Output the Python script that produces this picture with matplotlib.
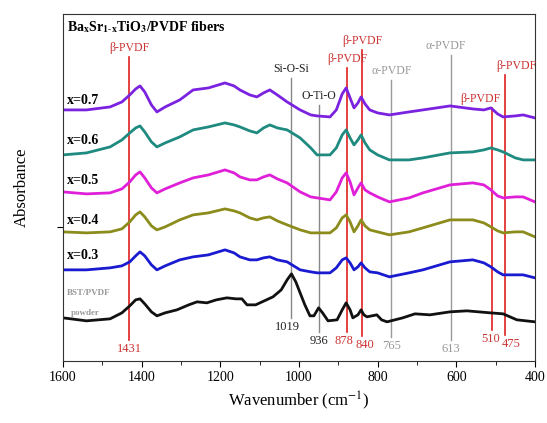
import matplotlib
matplotlib.use('Agg')
import matplotlib.pyplot as plt

# wavenumber grid (cm-1) shared by the fiber spectra
wn = [1600, 1540, 1480, 1450, 1430, 1415, 1404, 1392, 1375, 1361,
      1340, 1303, 1269, 1230, 1188, 1165, 1150, 1125, 1107, 1090,
      1074, 1055, 1030, 997, 970, 954, 921, 905, 890, 880,
      870, 860, 850, 842, 832, 820, 800, 770, 720, 685,
      616, 558, 530, 512, 495, 481, 450, 430, 400]

x03 = [0.91, 0.91, 0.93, 0.95, 0.99, 1.05, 1.09, 1.05, 0.96, 0.91,
       0.95, 1.01, 1.04, 1.06, 1.11, 1.08, 1.04, 1.01, 1.01, 1.03,
       1.04, 1.01, 0.99, 0.91, 0.89, 0.88, 0.88, 0.93, 1.01, 1.03,
       0.98, 0.91, 0.94, 0.98, 0.93, 0.89, 0.88, 0.84, 0.88, 0.91,
       0.99, 1.01, 0.98, 0.94, 0.89, 0.86, 0.86, 0.86, 0.83]
x04 = [1.29, 1.28, 1.29, 1.32, 1.39, 1.46, 1.49, 1.44, 1.35, 1.31,
       1.34, 1.41, 1.46, 1.48, 1.52, 1.50, 1.48, 1.43, 1.41, 1.43,
       1.44, 1.40, 1.36, 1.31, 1.28, 1.28, 1.28, 1.33, 1.43, 1.46,
       1.39, 1.29, 1.35, 1.41, 1.35, 1.31, 1.29, 1.26, 1.29, 1.33,
       1.41, 1.41, 1.38, 1.34, 1.30, 1.28, 1.29, 1.29, 1.24]
x05 = [1.69, 1.67, 1.68, 1.72, 1.79, 1.86, 1.89, 1.83, 1.73, 1.68,
       1.72, 1.78, 1.83, 1.86, 1.91, 1.88, 1.84, 1.81, 1.81, 1.84,
       1.86, 1.82, 1.78, 1.69, 1.64, 1.63, 1.61, 1.69, 1.83, 1.88,
       1.79, 1.66, 1.73, 1.78, 1.71, 1.68, 1.64, 1.59, 1.63, 1.68,
       1.76, 1.78, 1.76, 1.71, 1.65, 1.63, 1.64, 1.64, 1.59]
x06 = [2.06, 2.08, 2.14, 2.21, 2.28, 2.33, 2.35, 2.29, 2.19, 2.14,
       2.18, 2.24, 2.31, 2.34, 2.38, 2.36, 2.34, 2.30, 2.28, 2.33,
       2.36, 2.33, 2.31, 2.23, 2.13, 2.06, 2.06, 2.13, 2.26, 2.31,
       2.23, 2.16, 2.21, 2.26, 2.18, 2.11, 2.06, 2.01, 2.01, 2.03,
       2.08, 2.09, 2.11, 2.13, 2.11, 2.09, 2.03, 2.01, 2.01]
x07 = [2.51, 2.51, 2.54, 2.59, 2.66, 2.72, 2.75, 2.69, 2.56, 2.49,
       2.54, 2.61, 2.71, 2.73, 2.78, 2.75, 2.71, 2.66, 2.64, 2.68,
       2.71, 2.66, 2.59, 2.51, 2.46, 2.45, 2.44, 2.51, 2.67, 2.73,
       2.63, 2.53, 2.58, 2.64, 2.57, 2.51, 2.48, 2.46, 2.49, 2.51,
       2.55, 2.52, 2.51, 2.53, 2.47, 2.44, 2.45, 2.46, 2.43]

# BST/PVDF powder
wn_powder = [1600, 1540, 1480, 1450, 1430, 1415, 1404, 1392, 1375, 1361,
             1340, 1310, 1280, 1259, 1234, 1210, 1183, 1160, 1145, 1132,
             1110, 1099, 1066, 1045, 1030, 1019, 1008, 997, 985, 972,
             962, 950, 940, 926, 903, 890, 880, 870, 863, 850,
             842, 835, 827, 802, 790, 776, 736, 705, 667, 616,
             573, 514, 481, 446, 400]
powder = [0.43, 0.40, 0.42, 0.48, 0.55, 0.61, 0.62, 0.57, 0.49, 0.45,
          0.48, 0.51, 0.56, 0.59, 0.58, 0.61, 0.63, 0.62, 0.62, 0.56,
          0.56, 0.58, 0.64, 0.71, 0.81, 0.87, 0.79, 0.68, 0.56, 0.45,
          0.45, 0.53, 0.48, 0.40, 0.41, 0.51, 0.58, 0.51, 0.43, 0.46,
          0.51, 0.46, 0.44, 0.46, 0.41, 0.39, 0.43, 0.47, 0.46, 0.49,
          0.50, 0.48, 0.47, 0.41, 0.39]

series_labels = ['x=0.3', 'x=0.4', 'x=0.5', 'x=0.6', 'x=0.7']
series_label_y = [1.05, 1.40, 1.80, 2.20, 2.60]
series_colors = ['#1a1ad0', '#8c8c1c', '#e020d8', '#1f8a80', '#7b22e0']

# band assignments
band_pos = [1431, 1019, 950, 878, 840, 765, 613, 510, 475]
band_num = ['1431', '1019', '936', '878', '840', '765', '613', '510', '475']
band_num_x = [1431, 1030, 950, 886, 833, 765, 613, 512, 461]
band_name = ['β-PVDF', 'Si-O-Si', 'O-Ti-O', 'β-PVDF', 'β-PVDF', 'α-PVDF', 'α-PVDF', 'β-PVDF', 'β-PVDF']
band_name_x = [1431, 1019, 950, 878, 840, 765, 627, 540, 448]
band_top = [3.04, 2.83, 2.56, 2.93, 3.11, 2.81, 3.06, 2.53, 2.86]
band_bot = [0.21, 0.43, 0.29, 0.29, 0.25, 0.24, 0.21, 0.31, 0.26]
band_kind = ['b', 's', 's', 'b', 'b', 'a', 'a', 'b', 'b']

plt.rcParams['font.family'] = ['Liberation Serif', 'DejaVu Serif']
plt.rcParams['mathtext.fontset'] = 'stix'

fig = plt.figure(figsize=(5.47, 4.23), dpi=100)
ax = fig.add_axes([0.115, 0.147, 0.863, 0.82])

line_col = {'b': '#e02020', 's': '#888888', 'a': '#999999'}
text_col = {'b': '#cc3333', 's': '#222222', 'a': '#999999'}
for i in range(len(band_pos)):
    kind = band_kind[i]
    ax.plot([band_pos[i], band_pos[i]], [band_bot[i], band_top[i]], color=line_col[kind],
            lw=1.2 if kind == 'b' else 1.0, zorder=1)
    ax.text(band_name_x[i], band_top[i] + 0.03, band_name[i], color=text_col[kind],
            fontsize=8.5, ha='center', va='bottom')
    ax.text(band_num_x[i], band_bot[i] - 0.03, band_num[i], color=text_col[kind],
            fontsize=9, ha='center', va='top')

ax.plot(wn_powder, powder, color='#111111', lw=2, solid_joinstyle='round', zorder=2)
for vals, col in zip([x03, x04, x05, x06, x07], series_colors):
    ax.plot(wn, vals, color=col, lw=2, solid_joinstyle='round', zorder=2)

for lab, yy in zip(series_labels, series_label_y):
    ax.text(1590, yy, lab, fontsize=10, fontweight='bold', ha='left', va='center')
ax.text(1590, 0.68, 'BST/PVDF', fontsize=6.5, fontweight='bold', color='#999999', ha='left', va='center')
ax.text(1580, 0.48, 'powder', fontsize=6.5, fontweight='bold', color='#999999', ha='left', va='center')

ax.text(1590, 3.34, r'Ba$_{\mathbf{x}}$Sr$_{\mathbf{1\text{-}x}}$TiO$_{\mathbf{3}}$/PVDF fibers',
        fontsize=10, fontweight='bold', ha='left', va='center')

ax.set_xlim(1600, 400)
ax.set_ylim(0, 3.47)
ax.set_xticks([1600, 1400, 1200, 1000, 800, 600, 400])
ax.set_xticks([1500, 1300, 1100, 900, 700, 500], minor=True)
ax.set_yticks([1.34])
ax.set_yticklabels([])
ax.tick_params(axis='x', direction='out', length=4, labelsize=10)
ax.tick_params(axis='x', which='minor', direction='out', length=3)
ax.tick_params(axis='y', direction='out', length=4)
for s in ax.spines.values():
    s.set_color('#333333')

ax.set_xlabel('Wavenumber (cm$^{-1}$)', fontsize=12)
ax.set_ylabel('Absorbance', fontsize=12, labelpad=16)

fig.savefig('out.png', dpi=100)
